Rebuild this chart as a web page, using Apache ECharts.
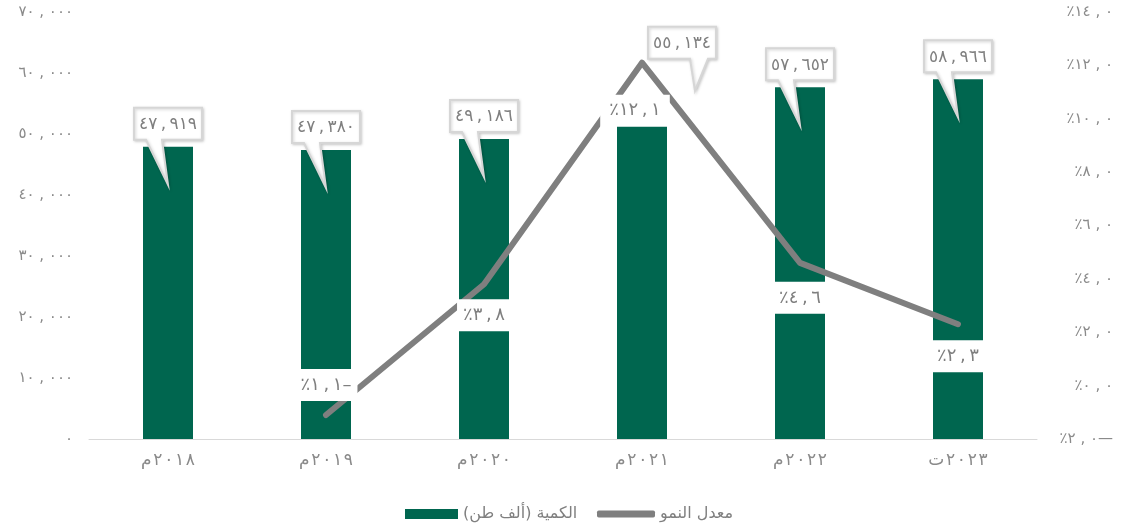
<!DOCTYPE html>
<html>
<head>
<meta charset="utf-8">
<script src="https://cdn.jsdelivr.net/npm/echarts@6/dist/echarts.min.js"></script>
<style>
html,body{margin:0;padding:0;background:#fff;}
#chart{width:1121px;height:526px;}
</style>
</head>
<body>
<div id="chart"></div>
<script>
// ---- data ----
const categories = ['٢٠١٨م', '٢٠١٩م', '٢٠٢٠م', '٢٠٢١م', '٢٠٢٢م', '٢٠٢٣ت'];
const quantity = [47919, 47380, 49186, 55134, 57652, 58966];
const growth = [null, -1.1, 3.8, 12.1, 4.6, 2.3];
const quantityTicks = [0, 10000, 20000, 30000, 40000, 50000, 60000, 70000];
const growthTicks = [-2, 0, 2, 4, 6, 8, 10, 12, 14];
const seriesNames = ['الكمية (ألف طن)', 'معدل النمو'];

// ---- styles / layout ----
const GREEN = '#00664f';
const GRAY = '#7f7f7f';
const AXGRAY = '#8a8a8a';
const FONT = 'DejaVu Sans';
const calloutDefault = {dx: 0, dy: -7, b0: -22, b1: -6, tx: 0, ty: 38};
const calloutLayout = {3: {dx: 40, dy: -44, b0: 8, b1: 26, tx: 53, ty: -12}};
const growthLabelLayout = [
  null,
  {position: 'top', distance: 13},
  {position: 'bottom', distance: 14},
  {position: 'bottom', distance: 31, offset: [-7, 0], padding: [7, 9]},
  {position: 'bottom', distance: 18},
  {position: 'bottom', distance: 15}
];

// ---- formatting helpers ----
const AR = '٠١٢٣٤٥٦٧٨٩';
const toAr = s => String(s).replace(/\d/g, d => AR[+d]);
const LRO = '\u202D', RLE = '\u202B', PDF = '\u202C';
function fmtThousands(n, sep) {
  const s = Math.round(n).toString().replace(/\B(?=(\d{3})+(?!\d))/g, '#');
  return LRO + toAr(s).split('#').join(sep) + PDF;
}
function fmtPct(v, sep, dash) {
  const a = Math.abs(v).toFixed(1).split('.');
  return LRO + '٪' + toAr(a[0]) + sep + toAr(a[1]) + (v < 0 ? dash : '') + PDF;
}
function fmtCategory(c) {
  // digits followed by a letter suffix; drawn as suffix on the left, spaced digits on the right
  const digits = c.replace(/[^\u0660-\u0669]/g, '');
  const suffix = c.replace(/[\u0660-\u0669]/g, '');
  return LRO + suffix + '\u200A' + digits.split('').join('\u200A') + PDF;
}

const chart = echarts.init(document.getElementById('chart'));
const option = {
  animation: false,
  textStyle: {fontFamily: FONT},
  grid: {left: 89, right: 84, top: 12, bottom: 87, containLabel: false},
  legend: [
    {
      data: [seriesNames[0]], left: 405, top: 506, padding: 0, itemWidth: 53, itemHeight: 10,
      icon: 'rect', selectedMode: false,
      textStyle: {fontSize: 16, color: GRAY, fontFamily: FONT},
      formatter: n => RLE + n + PDF
    },
    {
      data: [seriesNames[1]], left: 597, top: 506, padding: 0, itemWidth: 58, itemHeight: 7,
      icon: 'roundRect', selectedMode: false,
      itemStyle: {color: GRAY},
      textStyle: {fontSize: 16, color: GRAY, fontFamily: FONT},
      formatter: n => RLE + n + PDF
    }
  ],
  xAxis: {
    type: 'category',
    data: categories,
    axisLine: {lineStyle: {color: '#d9d9d9', width: 1}},
    axisTick: {show: false},
    axisLabel: {color: AXGRAY, fontSize: 17, margin: 13, fontFamily: FONT, formatter: fmtCategory}
  },
  yAxis: [
    {
      type: 'value',
      min: quantityTicks[0], max: quantityTicks[quantityTicks.length - 1],
      interval: quantityTicks[1] - quantityTicks[0],
      splitLine: {show: false}, axisLine: {show: false}, axisTick: {show: false},
      axisLabel: {color: AXGRAY, fontSize: 15, margin: 16, fontFamily: FONT, formatter: v => fmtThousands(v, ' , ')}
    },
    {
      type: 'value', position: 'right',
      min: growthTicks[0], max: growthTicks[growthTicks.length - 1],
      interval: growthTicks[1] - growthTicks[0],
      splitLine: {show: false}, axisLine: {show: false}, axisTick: {show: false},
      axisLabel: {color: AXGRAY, fontSize: 15, margin: 76, align: 'right', fontFamily: FONT, formatter: v => fmtPct(v, ' , ', '\u2014')}
    }
  ],
  series: [
    {
      name: seriesNames[0], type: 'bar', yAxisIndex: 0, barWidth: 50, z: 2,
      itemStyle: {color: GREEN},
      emphasis: {disabled: true},
      data: quantity
    },
    {
      name: seriesNames[1], type: 'line', yAxisIndex: 1, z: 3,
      lineStyle: {color: GRAY, width: 6, cap: 'round', join: 'round'},
      itemStyle: {color: GRAY},
      symbol: 'circle', symbolSize: 2, showSymbol: true,
      emphasis: {disabled: true},
      label: {
        show: true, backgroundColor: '#fff', padding: [7, 6],
        color: GRAY, fontSize: 18, fontFamily: FONT,
        formatter: p => fmtPct(p.value, '\u2009,\u2009', '\u2013')
      },
      data: growth.map((v, i) => v == null ? '-' : {value: v, label: growthLabelLayout[i]})
    },
    {
      name: 'callouts', type: 'custom', yAxisIndex: 0, z: 5,
      silent: true,
      encode: {x: 0, y: 1},
      data: quantity.map((v, i) => [i, v]),
      renderItem: function (params, api) {
        const p = api.coord([api.value(0), api.value(1)]);
        const s = calloutLayout[params.dataIndex] || calloutDefault;
        const w = 68, h = 32;
        const cx = p[0] + s.dx, bottom = p[1] + s.dy, top = bottom - h;
        const l = cx - w / 2, r = cx + w / 2;
        const pts = [[l, top], [r, top], [r, bottom], [cx + s.b1, bottom],
          [p[0] + s.tx, p[1] + s.ty], [cx + s.b0, bottom], [l, bottom]];
        return {
          type: 'group',
          children: [
            {type: 'polygon', shape: {points: pts},
              style: {fill: '#fff', stroke: '#d6d6d6', lineWidth: 2,
                shadowBlur: 3, shadowColor: 'rgba(0,0,0,0.18)', shadowOffsetX: 1, shadowOffsetY: 1}},
            {type: 'text', style: {text: fmtThousands(api.value(1), '\u2009,\u2009'), x: cx, y: top + h / 2 + 1,
              align: 'center', verticalAlign: 'middle', fill: GRAY, font: '17px "' + FONT + '"'}}
          ]
        };
      }
    }
  ]
};
chart.setOption(option);
</script>
</body>
</html>
